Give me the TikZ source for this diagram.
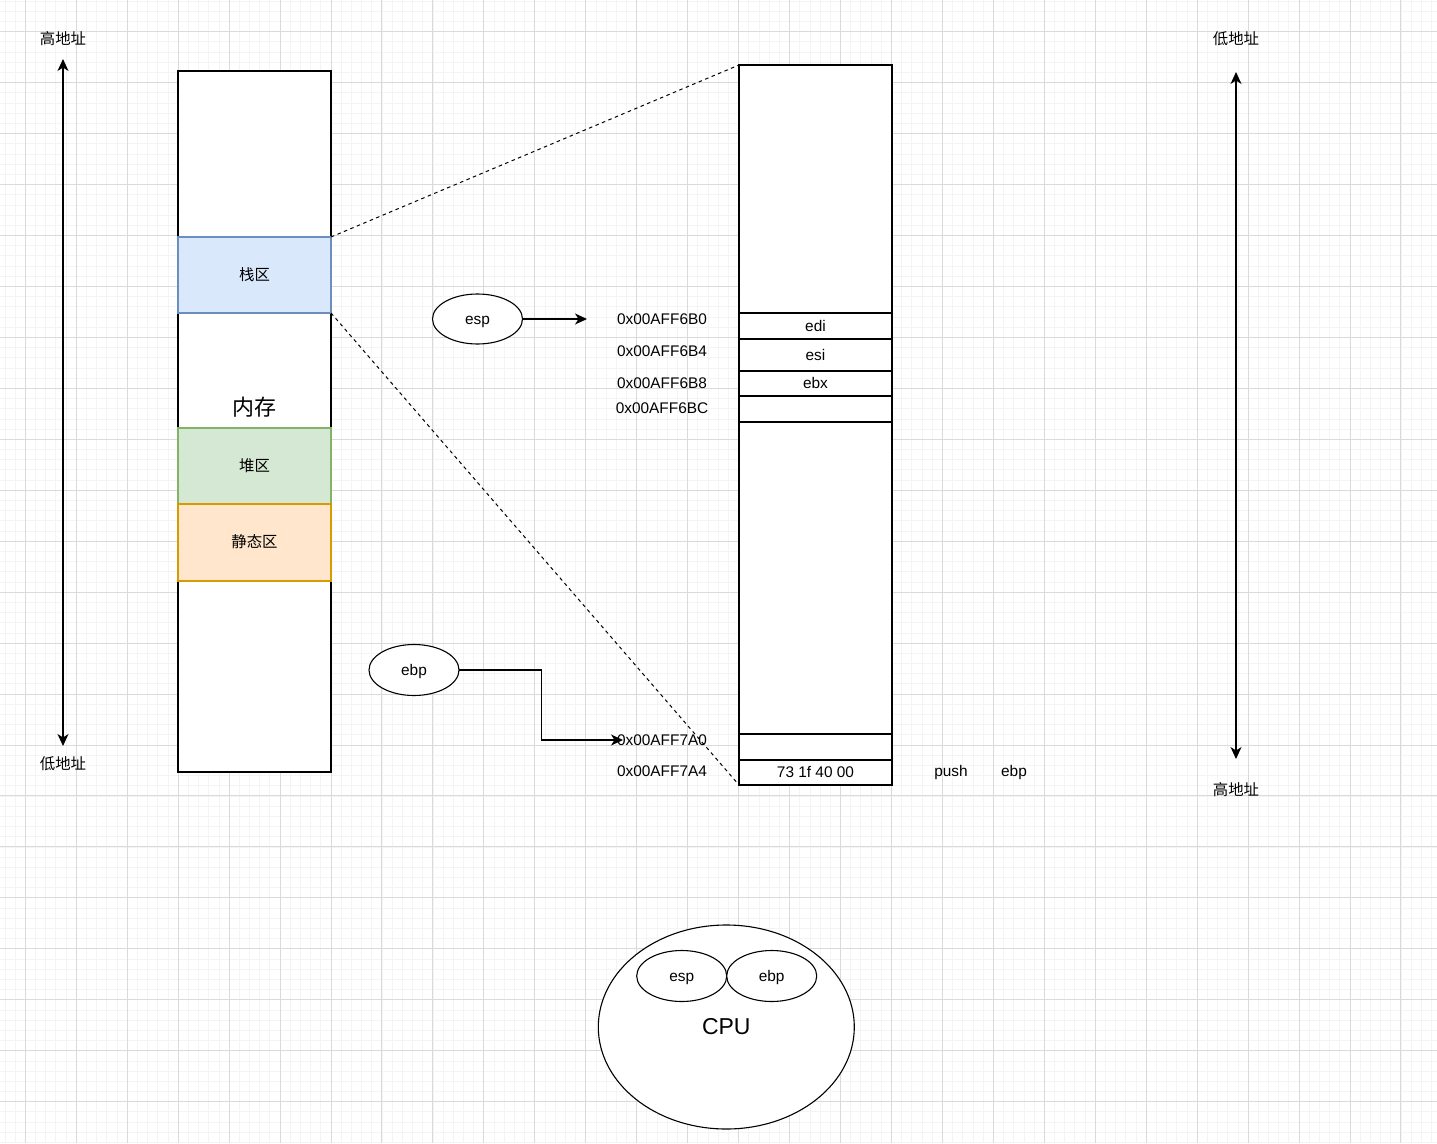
\documentclass[tikz,border=0pt]{standalone}
\usepackage{fontspec}
\setmainfont{Liberation Sans}
\newfontfamily\cjk{Noto Sans CJK SC}
\usetikzlibrary{shapes.geometric,arrows.meta}
\definecolor{stackfill}{HTML}{DAE8FC}
\definecolor{stackline}{HTML}{6C8EBF}
\definecolor{heapfill}{HTML}{D5E8D4}
\definecolor{heapline}{HTML}{82B366}
\definecolor{statfill}{HTML}{FFE6CC}
\definecolor{statline}{HTML}{D79B00}
\definecolor{gridmajor}{HTML}{DADADA}
\definecolor{gridminor}{HTML}{F4F4F4}
\tikzset{
  lbox/.style={text height=1.0em, text depth=0em},
  bigbox/.style={text height=1.5em, text depth=0em},
  txt/.style={font=\fontsize{15.4}{18}\selectfont, inner sep=0pt, lbox},
  cjktxt/.style={font=\fontsize{15.4}{18}\selectfont\cjk, inner sep=0pt, lbox},
  box/.style={draw=black, line width=1.2pt, fill=white, inner sep=0pt, outer sep=0pt, minimum width=153pt, font=\fontsize{15.4}{18}\selectfont, lbox},
  oval/.style={ellipse, draw=black, line width=1.1pt, fill=white, inner sep=0pt, outer sep=0pt, font=\fontsize{15.4}{18}\selectfont, lbox},
  conn/.style={line width=1.1pt, -{Stealth[length=12pt,width=11pt,inset=3.5pt]}},
  dconn/.style={line width=1.1pt, {Stealth[length=12pt,width=11pt,inset=3.5pt]}-{Stealth[length=12pt,width=11pt,inset=3.5pt]}},
  dashline/.style={line width=1pt, dash pattern=on 3.5pt off 3.5pt},
}
\begin{document}
\begin{tikzpicture}[x=1pt,y=-1pt]
\useasboundingbox (0,0) rectangle (1437,1143);
\fill[white] (0,0) rectangle (1437,1143);
% grid
\foreach \i in {0,...,142} {\draw[gridminor, line width=0.8pt] ({25.3+(\i-2)*10.19},0) -- ++(0,1143);}
\foreach \i in {0,...,114} {\draw[gridminor, line width=0.8pt] (0,{31.7+(\i-3)*10.19}) -- ++(1437,0);}
\foreach \i in {0,...,28} {\draw[gridmajor, line width=1pt] ({25.3+\i*50.95},0) -- ++(0,1143);}
\foreach \i in {-1,...,22} {\draw[gridmajor, line width=1pt] (0,{31.7+\i*50.95}) -- ++(1437,0);}

% left memory column
\node[box, minimum height=701pt] (mem) at (254.5,421.5) {};
\node[box, fill=stackfill, draw=stackline, minimum height=76pt] (stack) at (254.5,275) {\cjk 栈区};
\node[box, fill=heapfill, draw=heapline, minimum height=76pt] (heap) at (254.5,466) {\cjk 堆区};
\node[box, fill=statfill, draw=statline, minimum height=77pt] (static) at (254.5,542.5) {\cjk 静态区};
\node[font=\fontsize{22}{26}\selectfont\cjk, inner sep=0pt, lbox] (memlbl) at (254.5,410) {内存};

% left axis
\node[cjktxt] (hiL) at (63,39) {高地址};
\node[cjktxt] (loL) at (63,764) {低地址};
\coordinate (lt) at (63,59);
\coordinate (lb) at (63,746);
\draw[dconn] (lt) -- (lb);

% right axis
\node[cjktxt] (loR) at (1236,39) {低地址};
\node[cjktxt] (hiR) at (1236,790) {高地址};
\coordinate (rt) at (1236,72);
\coordinate (rb) at (1236,759);
\draw[dconn] (rt) -- (rb);

% right stack frame
\node[box, minimum height=720pt] (frame) at (815.5,425) {};
\node[box, minimum height=26pt] (edi) at (815.5,326) {edi};
\node[box, minimum height=32pt] (esi) at (815.5,355) {esi};
\node[box, minimum height=25pt] (ebx) at (815.5,383.5) {ebx};
\node[box, minimum height=26pt] (blank1) at (815.5,409) {};
\node[box, minimum height=26pt] (blank2) at (815.5,747) {};
\node[box, minimum height=25pt] (ret) at (815.5,772.5) {73 1f 40 00};

% addresses
\node[txt] (a0) at (662,319) {0x00AFF6B0};
\node[txt] (a4) at (662,351) {0x00AFF6B4};
\node[txt] (a8) at (662,383) {0x00AFF6B8};
\node[txt] (ac) at (662,408) {0x00AFF6BC};
\node[txt] (b0) at (662,740) {0x00AFF7A0};
\node[txt] (b4) at (662,771) {0x00AFF7A4};

\node[txt] (push) at (951,771) {push};
\node[txt] (pebp) at (1014,771) {ebp};

% dashed zoom lines
\draw[dashline] (stack.north east) -- (frame.north west);
\draw[dashline] (stack.south east) -- (frame.south west);

% esp / ebp pointers
\node[oval, minimum width=90pt, minimum height=50pt] (esp) at (477.5,319) {esp};
\coordinate (espTip) at (587,319);
\draw[conn] (esp.east) -- (espTip);

\node[oval, minimum width=90pt, minimum height=51pt] (ebp) at (414,670) {ebp};
\coordinate (bend) at (541.5,740);
\coordinate (ebpTip) at (623,740);
\draw[conn] (ebp.east) -| (bend) -- (ebpTip);

% CPU
\node[oval, minimum width=256pt, minimum height=204pt, font=\fontsize{23}{27}\selectfont, bigbox] (cpu) at (726.3,1027) {CPU};
\node[oval, minimum width=90pt, minimum height=51pt] (cesp) at (681.7,976) {esp};
\node[oval, minimum width=90pt, minimum height=51pt] (cebp) at (771.7,976) {ebp};
\end{tikzpicture}
\end{document}
